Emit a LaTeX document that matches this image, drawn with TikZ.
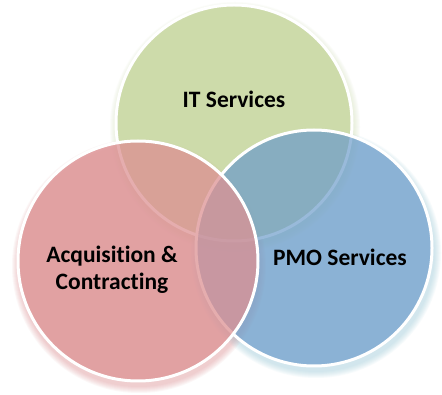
\documentclass[tikz,border=0pt]{standalone}
\usepackage{fontspec}
\setmainfont[Ligatures={NoCommon}]{Carlito}
\definecolor{vgreen}{RGB}{194,211,150}
\definecolor{vblue}{RGB}{110,157,203}
\definecolor{vred}{RGB}{221,146,148}
\definecolor{gglow}{RGB}{190,210,150}
\definecolor{bglow}{RGB}{150,200,215}
\definecolor{rglow}{RGB}{215,120,125}
\tikzset{
  venn/.style={circle, draw=white, line width=3pt, fill opacity=#1, draw opacity=1, inner sep=0pt},
  lbl/.style={font=\bfseries\fontsize{23.5}{27}\selectfont, text=black, align=center},
}
\begin{document}
\begin{tikzpicture}[x=1pt,y=-1pt]
\useasboundingbox (0,0) rectangle (442,395);
\fill[white] (0,0) rectangle (442,395);
% glows
\foreach \k in {1,...,7}{
  \fill[gglow, opacity=0.05] (235,127) circle ({118+\k});
  \fill[bglow, opacity=0.07] (316,253) circle ({118+\k});
  \fill[rglow, opacity=0.06] (139,266) circle ({120+\k});
}
\node[venn=0.7, fill=vgreen, minimum size=236pt] (green) at (234,123) {};
\node[venn=0.7, fill=vblue, minimum size=236pt] (blue) at (314,248) {};
\node[venn=0.75, fill=vred, minimum size=240pt] (red) at (138,261) {};
\node[lbl] (it) at (234,99) {IT Services};
\node[lbl] (pmo) at (340,257) {PMO Services};
\node[lbl] (acq) at (112,270) {Acquisition \&\\Contracting};
\end{tikzpicture}
\end{document}
